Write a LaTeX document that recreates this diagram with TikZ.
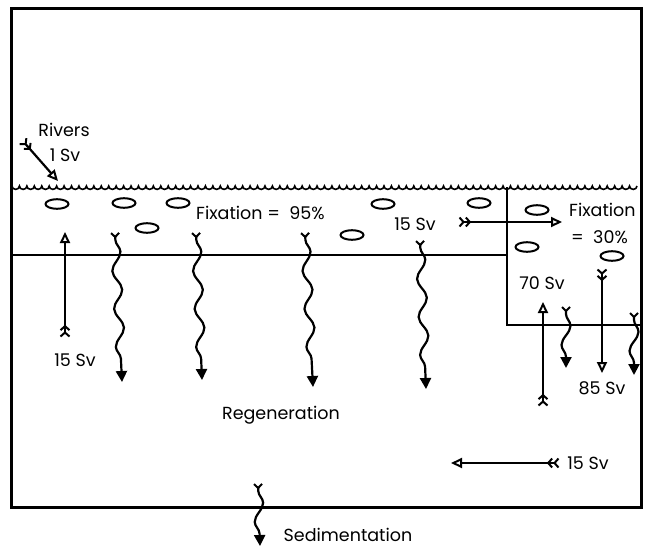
\documentclass[tikz,border=0pt]{standalone}
\usepackage{fontspec}
\setmainfont{Poppins}
\usetikzlibrary{arrows.meta,decorations.pathmorphing}

\begin{document}
\begin{tikzpicture}[x=1pt, y=-1pt,
    lbl/.style={font=\fontsize{17.5}{19}\selectfont, inner sep=0pt},
    wall/.style={line width=2.2pt},
    cell/.style={line width=2pt},
    flux/.style={line width=2.2pt,
      {Straight Barb[reversed, length=4pt, width=9pt, line width=2pt, sep=0.5pt]
       Straight Barb[reversed, length=4pt, width=9pt, line width=2pt]}-{Triangle[open, length=11pt, width=10pt, line width=2pt]}},
    sink/.style={line width=2.2pt, decorate,
      decoration={snake, segment length=38pt, amplitude=4.5pt,
        pre length=8pt, post length=11pt},
      {Straight Barb[reversed, length=4pt, width=8pt, line width=2pt]}-{Triangle[length=11pt, width=11pt]}}
  ]
    \useasboundingbox (0,0) rectangle (645,549);
    % basin outline and surface
    \draw[line width=3pt] (11,8) rectangle (641,507);
    \draw[line width=1.6pt] (12,186)
      \foreach \i in {1,...,84} { arc[start angle=180, end angle=0,
        x radius=3.72, y radius=3.4] };
    \draw[wall] (11,255) -- (507,255) -- (507,187);
    \draw[wall] (507,255) -- (507,325) -- (641,325);
    % cells
    \foreach \x/\y in {57/204, 124/203, 178/203, 147/228, 383/204,
        352/235, 479/203, 537/210, 527/247, 612/256}
      \draw[cell] (\x,\y) ellipse[x radius=11.5, y radius=4.8];
    % labels
    \node[lbl] (RIV) at (64,130) {Rivers};
    \node[lbl] (RIVSV) at (65,155) {1 Sv};
    \node[lbl, anchor=west] (FIXA) at (196,213) {Fixation = \ 95\%};
    \node[lbl] (INSV) at (415,224) {15 Sv};
    \node[lbl, anchor=west] (FIXB) at (569,210) {Fixation};
    \node[lbl, anchor=west] (FIXBV) at (571,237) {= \ 30\%};
    \node[lbl] (UPA) at (75,360) {15 Sv};
    \node[lbl] (UPB) at (542,283) {70 Sv};
    \node[lbl] (DNB) at (602,388) {85 Sv};
    \node[lbl] (REG) at (281,415) {Regeneration};
    \node[lbl] (OUTSV) at (588,463) {15 Sv};
    \node[lbl] (SED) at (348,535) {Sedimentation};
    % arrow ends
    \coordinate (RIVs) at (22,140);   \coordinate (RIVe) at (58,181);
    \coordinate (UPAs) at (65,338);   \coordinate (UPAe) at (65,232);
    \coordinate (INs) at (458,222);   \coordinate (INe) at (562,222);
    \coordinate (UPBs) at (543,407);  \coordinate (UPBe) at (543,302);
    \coordinate (DNBs) at (602,268);  \coordinate (DNBe) at (602,373);
    \coordinate (OUTs) at (560,463);  \coordinate (OUTe) at (451,463);
    \coordinate (S1s) at (115,232);   \coordinate (S1e) at (122,382);
    \coordinate (S2s) at (196,232);   \coordinate (S2e) at (202,380);
    \coordinate (S3s) at (305,232);   \coordinate (S3e) at (313,387);
    \coordinate (S4s) at (420,240);   \coordinate (S4e) at (426,389);
    \coordinate (S5s) at (566,306);   \coordinate (S5e) at (566,368);
    \coordinate (S6s) at (634,312);   \coordinate (S6e) at (634,375);
    \coordinate (SEDs) at (258,483);  \coordinate (SEDe) at (260,546);
    % fluxes
    \draw[flux] (RIVs) -- (RIVe);
    \draw[flux] (UPAs) -- (UPAe);
    \draw[flux] (INs) -- (INe);
    \draw[flux] (UPBs) -- (UPBe);
    \draw[flux] (DNBs) -- (DNBe);
    \draw[flux] (OUTs) -- (OUTe);
    % sinking particles
    \draw[sink] (S1s) -- (S1e);
    \draw[sink] (S2s) -- (S2e);
    \draw[sink] (S3s) -- (S3e);
    \draw[sink] (S4s) -- (S4e);
    \draw[sink] (S5s) -- (S5e);
    \draw[sink] (S6s) -- (S6e);
    \draw[sink] (SEDs) -- (SEDe);
\end{tikzpicture}
\end{document}
